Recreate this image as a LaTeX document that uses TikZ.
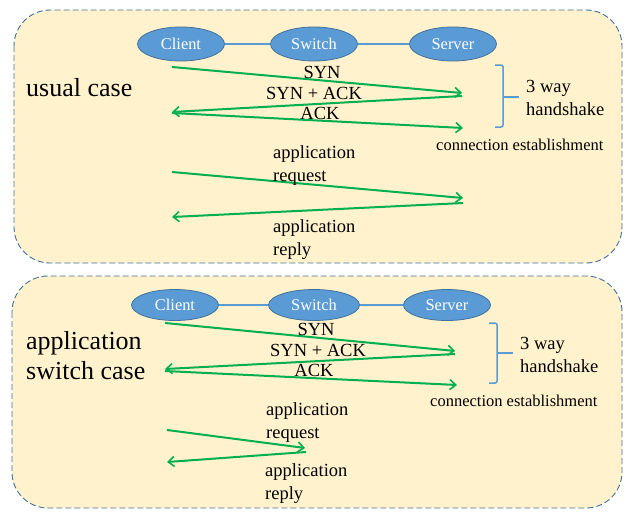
\documentclass[tikz,border=0pt]{standalone}
\usepackage{fontspec}
\setmainfont{Liberation Serif}
\usetikzlibrary{arrows.meta,shapes.geometric}
\definecolor{panelfill}{HTML}{FFF2CC}
\definecolor{panelline}{HTML}{41719C}
\definecolor{nodefill}{HTML}{5B9BD5}
\definecolor{nodeline}{HTML}{41719C}
\definecolor{msggreen}{HTML}{00B050}
\tikzset{
  panel/.style={draw=panelline, fill=panelfill, dash pattern=on 6pt off 3pt, line width=0.9pt, rounded corners=36pt},
  host/.style={ellipse, draw=nodeline, fill=nodefill, line width=0.8pt, text=white,
    minimum width=87pt, minimum height=34pt, inner sep=0pt,
    font=\fontsize{16.4}{18}\selectfont},
  link/.style={draw=nodefill, line width=1.8pt},
  msg/.style={draw=msggreen, line width=2pt, -{Straight Barb[length=6pt,width=10pt,line width=1.6pt]}},
  lbl/.style={inner sep=0pt, font=\fontsize{18.5}{23}\selectfont},
  small/.style={inner sep=0pt, font=\fontsize{16.5}{19}\selectfont},
  big/.style={inner sep=0pt, font=\fontsize{26}{30}\selectfont, align=left, anchor=west},
  brace/.style={draw=nodefill, line width=1.5pt, rounded corners=2pt}
}
\begin{document}
\begin{tikzpicture}[x=1pt,y=-1pt]
\useasboundingbox (0,0) rectangle (628,511);
% ---------- top panel ----------
\draw[panel] (14,10) rectangle (622,263);
\node[host] (c1) at (181,44) {Client};
\node[host] (w1) at (314,44) {Switch};
\node[host] (s1) at (453,44) {Server};
\draw[link] (c1) -- (w1);
\draw[link] (w1) -- (s1);
\node[big] (t1) at (26,88) {usual case};

\coordinate (a1s) at (172,67);  \coordinate (a1e) at (462,93);
\coordinate (a2s) at (462,96);  \coordinate (a2e) at (172,112);
\coordinate (a3s) at (172,113); \coordinate (a3e) at (463,128);
\draw[msg] (a1s) -- (a1e);
\draw[msg] (a2s) -- (a2e);
\draw[msg] (a3s) -- (a3e);
\node[lbl] (syn1) at (322,72) {SYN};
\node[lbl] (sa1) at (314,93) {SYN + ACK};
\node[lbl] (ack1) at (320,113) {ACK};

\coordinate (b1t) at (495,65); \coordinate (b1b) at (495,127);
\draw[brace] (b1t) -- (503,65) -- (503,127) -- (b1b);
\draw[brace] (503,97) -- (519,97);
\node[lbl, anchor=west, align=left] (hs1) at (526,98) {3 way\\handshake};
\node[small, anchor=west] (ce1) at (436,145) {connection establishment};

\coordinate (r1s) at (172,172); \coordinate (r1e) at (463,198);
\coordinate (p1s) at (463,203); \coordinate (p1e) at (172,217);
\draw[msg] (r1s) -- (r1e);
\draw[msg] (p1s) -- (p1e);
\node[lbl, anchor=west, align=left] (rq1) at (273,166) {application\\request};
\node[lbl, anchor=west, align=left] (rp1) at (273,240) {application\\reply};

% ---------- bottom panel ----------
\draw[panel] (12,276) rectangle (622,508);
\node[host, minimum height=31pt] (c2) at (175,305) {Client};
\node[host, minimum width=91pt, minimum height=31pt] (w2) at (314,305) {Switch};
\node[host, minimum height=31pt] (s2) at (447,305) {Server};
\draw[link] (c2) -- (w2);
\draw[link] (w2) -- (s2);
\node[big] (t2) at (26,356) {application\\switch case};

\coordinate (d1s) at (165,323); \coordinate (d1e) at (455,351);
\coordinate (d2s) at (455,354); \coordinate (d2e) at (165,369);
\coordinate (d3s) at (165,371); \coordinate (d3e) at (457,385);
\draw[msg] (d1s) -- (d1e);
\draw[msg] (d2s) -- (d2e);
\draw[msg] (d3s) -- (d3e);
\node[lbl] (syn2) at (316,329) {SYN};
\node[lbl] (sa2) at (318,350) {SYN + ACK};
\node[lbl] (ack2) at (314,370) {ACK};

\coordinate (b2t) at (489,323); \coordinate (b2b) at (489,383);
\draw[brace] (b2t) -- (497,323) -- (497,383) -- (b2b);
\draw[brace] (497,353) -- (513,353);
\node[lbl, anchor=west, align=left] (hs2) at (520,355) {3 way\\handshake};
\node[small, anchor=west] (ce2) at (430,401) {connection establishment};

\coordinate (r2s) at (167,430); \coordinate (r2e) at (305,448);
\coordinate (p2s) at (306,452); \coordinate (p2e) at (167,462);
\draw[msg] (r2s) -- (r2e);
\draw[msg] (p2s) -- (p2e);
\node[lbl, anchor=west, align=left] (rq2) at (266,423) {application\\request};
\node[lbl, anchor=west, align=left] (rp2) at (265,484) {application\\reply};
\end{tikzpicture}
\end{document}
